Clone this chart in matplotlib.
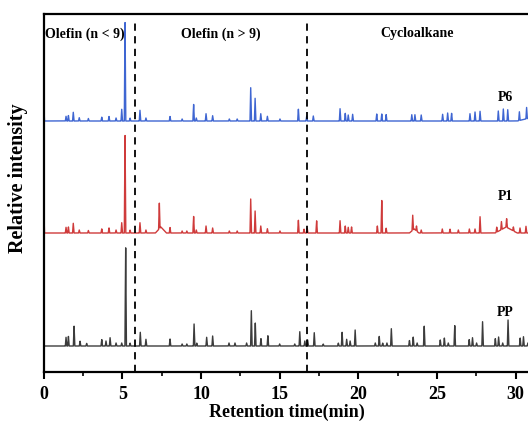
import numpy as np
import matplotlib
matplotlib.use('Agg')
import matplotlib.pyplot as plt
import matplotlib.ticker as ticker

plt.rcParams['font.family'] = ['Liberation Serif', 'DejaVu Serif']
plt.rcParams['font.weight'] = 'bold'

# peak tables: (retention time [min], height)
pp_peaks = [(1.42, 8.7), (1.57, 10), (1.93, 20.7), (2.31, 5), (2.73, 2.7), (3.69, 6.7),
            (3.96, 5), (4.22, 8.3), (4.6, 3), (4.96, 3), (5.21, 102.7), (5.49, 3),
            (6.14, 13.7), (6.5, 6.7), (8.03, 7.3), (8.8, 2), (9.1, 2), (9.56, 22),
            (9.73, 3), (10.36, 8.7), (10.74, 10), (11.78, 3), (12.16, 3), (12.9, 3),
            (13.2, 35.3), (13.45, 24), (13.81, 7.7), (14.25, 10.7), (15.0, 2),
            (15.96, 2), (16.28, 14.3), (16.6, 5), (16.78, 6), (17.2, 13.3),
            (17.77, 2), (18.73, 3), (18.97, 14.3), (19.26, 6.7), (19.48, 5),
            (19.8, 16), (21.08, 3), (21.33, 10), (21.55, 3), (21.82, 3), (22.1, 17.3),
            (23.25, 5.7), (23.49, 9.3), (23.74, 3), (24.19, 20.7), (25.21, 6.3),
            (25.47, 8.3), (25.72, 3), (26.13, 21.3), (27.05, 6.7), (27.26, 8.3),
            (27.52, 3), (27.9, 24.3), (28.71, 7.7), (28.92, 9), (29.18, 3),
            (29.52, 26), (30.29, 8.3), (30.5, 9.3), (30.78, 3)]

p1_peaks = [(0.0, 27), (1.42, 5.7), (1.57, 6.3), (1.88, 9.7), (2.26, 3), (2.84, 2.5),
            (3.69, 4.3), (4.15, 5.3), (4.6, 3), (4.96, 10.3), (5.17, 102), (5.49, 3),
            (6.12, 10.3), (6.5, 3), (7.35, 26.7), (8.03, 5.7), (8.8, 2), (9.1, 2),
            (9.53, 17.3), (9.7, 3), (10.32, 7), (10.74, 5), (11.8, 2), (12.3, 2),
            (13.16, 34), (13.44, 22), (13.8, 7), (14.22, 4.3), (15.02, 2), (16.19, 13.3),
            (16.55, 4), (16.75, 5), (17.35, 12.7), (18.84, 12.3), (19.17, 7.3),
            (19.36, 5.7), (19.57, 6.3), (21.21, 7.3), (21.49, 34), (21.77, 5),
            (23.46, 15), (23.7, 5), (24.0, 3), (25.34, 4), (25.83, 4), (26.36, 3),
            (27.06, 4), (27.42, 4), (27.74, 16.3), (28.8, 5), (29.1, 8), (29.43, 9),
            (29.86, 4), (30.28, 5), (30.66, 6.7)]
# slow-eluting peaks with a tail: (time, height, width)
p1_humps = [(7.45, 6, 0.35), (23.55, 4, 0.3), (29.4, 6, 0.7)]

p6_peaks = [(0.0, 18), (1.42, 4.7), (1.57, 5.7), (1.88, 8.7), (2.26, 3.3), (2.84, 2.5),
            (3.69, 4), (4.15, 4.7), (4.6, 3), (4.96, 11.7), (5.17, 103), (5.49, 3),
            (6.12, 10.7), (6.5, 3), (8.03, 4.7), (8.8, 2), (9.53, 17.3), (9.7, 3),
            (10.32, 7.3), (10.74, 5.3), (11.8, 2), (12.3, 2), (13.16, 33.3),
            (13.44, 22.7), (13.8, 7.3), (14.22, 4.7), (15.02, 2), (16.19, 12.3),
            (16.72, 5), (17.14, 5), (18.84, 12.3), (19.17, 8), (19.36, 6),
            (19.64, 6.7), (21.17, 7.3), (21.49, 7.3), (21.77, 6.7), (23.4, 6.3),
            (23.6, 6.3), (24.0, 6), (25.36, 6.7), (25.68, 8), (25.93, 8), (27.1, 7.3),
            (27.42, 9), (27.74, 9.7), (28.9, 10), (29.22, 12), (29.5, 11.3),
            (30.24, 8.7), (30.7, 11.3)]
p6_humps = [(30.9, 3, 0.8)]

baselines = {'PP': 26, 'P1': 139, 'P6': 251}
colors = {'PP': '#3c3c3c', 'P1': '#cf3b3b', 'P6': '#3f66d2'}
region_lines = [5.83, 16.75]
regions = ['Olefin (n < 9)', 'Olefin (n > 9)', 'Cycloalkane']

t = np.arange(0, 31.0, 0.004)


def trace(peaks, humps=(), base=0):
    y = np.full_like(t, float(base))
    for tp, h in peaks:
        y += h * np.clip(1 - np.abs(t - tp) / 0.045, 0, None)
    for tp, h, w in humps:
        y += h * np.clip(1 - np.abs(t - tp) / w, 0, None)
    return y


fig = plt.figure(figsize=(5.28, 4.26), dpi=100)
ax = fig.add_axes([43.7 / 528, 1 - 372 / 426, (531 - 43.7) / 528, 358 / 426])

ax.plot(t, trace(pp_peaks, base=baselines['PP']), color=colors['PP'], lw=1.0)
ax.plot(t, trace(p1_peaks, p1_humps, base=baselines['P1']), color=colors['P1'], lw=1.0)
ax.plot(t, trace(p6_peaks, p6_humps, base=baselines['P6']), color=colors['P6'], lw=1.0)

for xv in region_lines:
    ax.plot([xv, xv], [0, 353], color='k', lw=1.3, ls=(0, (4, 3)), zorder=5)

ax.text(0.08, 338, regions[0], ha='left', va='center', fontsize=10, fontweight='bold')
ax.text(11.27, 338, regions[1], ha='center', va='center', fontsize=10, fontweight='bold')
ax.text(23.76, 338, regions[2], ha='center', va='center', fontsize=10, fontweight='bold')

ax.text(29.33, 274, 'P6', ha='center', va='center', fontsize=10, fontweight='bold')
ax.text(29.33, 175, 'P1', ha='center', va='center', fontsize=10, fontweight='bold')
ax.text(29.33, 59, 'PP', ha='center', va='center', fontsize=10, fontweight='bold')

ax.set_xlim(0, (531 - 43.7) / 15.73)
ax.set_ylim(0, 358)
ax.set_yticks([])
ax.xaxis.set_major_locator(ticker.MultipleLocator(5))
ax.xaxis.set_minor_locator(ticker.MultipleLocator(2.5))
ax.tick_params(axis='x', which='major', direction='out', length=5, width=1.5, labelsize=13, pad=5)
ax.tick_params(axis='x', which='minor', direction='out', length=3, width=1.2)
for lbl in ax.get_xticklabels():
    lbl.set_fontweight('bold')
for s in ax.spines.values():
    s.set_linewidth(1.6)

fig.text(287 / 528, 1 - 412 / 426, 'Retention time(min)', ha='center', va='center',
         fontsize=13, fontweight='bold')
fig.text(18 / 528, 1 - 178 / 426, 'Relative intensity', rotation=90, ha='center', va='center',
         fontsize=14.5, fontweight='bold')

fig.savefig('out.png', dpi=100)
